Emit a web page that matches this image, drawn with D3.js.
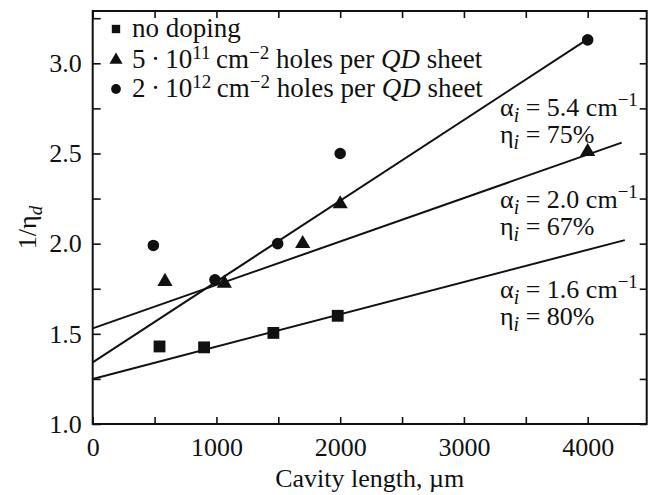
<!DOCTYPE html>
<html>
<head>
<meta charset="utf-8">
<script src="https://cdn.jsdelivr.net/npm/d3@7"></script>
<style>
  html, body { margin: 0; padding: 0; background: #fff; }
  svg { display: block; }
</style>
</head>
<body>
<svg id="chart" width="654" height="495"></svg>
<script>
// Cavity length (µm) and inverse differential efficiency for each doping level
const noDopingL   = [540, 900, 1460, 1980];
const noDopingY   = [1.43, 1.425, 1.505, 1.60];
const lowDopingL  = [584, 1064, 1697, 2000, 4000];
const lowDopingY  = [1.79, 1.78, 2.00, 2.22, 2.51];
const highDopingL = [490, 988, 1495, 2000, 4000];
const highDopingY = [1.99, 1.80, 2.00, 2.50, 3.13];

// Linear fits 1/eta_d = a + b*L  (no doping, 5e11, 2e12)
const fitIntercept = [1.25, 1.53, 1.342];
const fitSlope     = [1.79e-4, 2.41e-4, 4.48e-4];
const fitEndL      = [4300, 4275, 4000];

// Fit annotations
const alphaLabels = ["5.4", "2.0", "1.6"];
const etaLabels   = ["75%", "67%", "80%"];

// Axis ticks
const xMajorTicks = [0, 1000, 2000, 3000, 4000];
const xMinorTicks = [500, 1500, 2500, 3500];
const yMajorTicks = [1.0, 1.5, 2.0, 2.5, 3.0];
const yMinorTicks = [1.25, 1.75, 2.25, 2.75, 3.25];

const FONT = "'Liberation Serif', 'DejaVu Serif', serif";
const svg = d3.select("#chart");
const plotL = 92.7, plotR = 646.7, plotT = 11, plotB = 424;

const x = d3.scaleLinear().domain([0, 4477]).range([plotL, plotR]);
const y = d3.scaleLinear().domain([1.0, 3.29]).range([plotB, plotT]);

const tickFont = 26;
const textFont = 26;

// Axes with inward ticks on all four sides
function styleAxis(g) {
  g.select(".domain").remove();
  g.selectAll(".tick line").attr("stroke", "#111").attr("stroke-width", 1.6);
  g.selectAll(".tick text").style("font-size", tickFont + "px").attr("fill", "#111");
}

svg.append("g").attr("transform", `translate(0,${plotB})`)
  .call(d3.axisBottom(x).tickValues(xMajorTicks.concat(xMinorTicks)).tickSize(-7).tickPadding(14)
    .tickFormat(d => xMajorTicks.includes(d) ? d3.format("d")(d) : ""))
  .call(styleAxis);
svg.append("g").attr("transform", `translate(0,${plotT})`)
  .call(d3.axisTop(x).tickValues(xMajorTicks.concat(xMinorTicks)).tickSize(-7).tickFormat(""))
  .call(styleAxis);
svg.append("g").attr("transform", `translate(${plotL},0)`)
  .call(d3.axisLeft(y).tickValues(yMajorTicks.concat(yMinorTicks)).tickSize(-8).tickPadding(11)
    .tickFormat(d => yMajorTicks.includes(d) ? d3.format(".1f")(d) : ""))
  .call(styleAxis);
svg.append("g").attr("transform", `translate(${plotR},0)`)
  .call(d3.axisRight(y).tickValues(yMajorTicks.concat(yMinorTicks)).tickSize(-7).tickFormat(""))
  .call(styleAxis);

// Frame
svg.append("rect")
  .attr("x", plotL).attr("y", plotT)
  .attr("width", plotR - plotL).attr("height", plotB - plotT)
  .attr("fill", "none").attr("stroke", "#111").attr("stroke-width", 2);

// Fit lines
const line = d3.line().x(d => x(d[0])).y(d => y(d[1]));
fitIntercept.forEach((a, i) => {
  const b = fitSlope[i];
  svg.append("path")
    .datum([[0, a], [fitEndL[i], a + b * fitEndL[i]]])
    .attr("d", line)
    .attr("fill", "none").attr("stroke", "#111").attr("stroke-width", 2);
});

// Markers
const sq = d3.symbol().type(d3.symbolSquare).size(140);
const tri = d3.symbol().type(d3.symbolTriangle).size(100);
const circ = d3.symbol().type(d3.symbolCircle).size(105);

function drawSeries(Ls, Ys, sym) {
  svg.append("g").selectAll("path")
    .data(Ls.map((L, i) => [L, Ys[i]]))
    .join("path")
    .attr("d", sym)
    .attr("transform", d => `translate(${x(d[0])},${y(d[1])})`)
    .attr("fill", "#111");
}
drawSeries(noDopingL, noDopingY, sq);
drawSeries(lowDopingL, lowDopingY, tri);
drawSeries(highDopingL, highDopingY, circ);

// Axis titles
svg.append("text")
  .attr("x", (plotL + plotR) / 2).attr("y", 487)
  .attr("text-anchor", "middle").style("font-size", textFont + "px")
  .text("Cavity length, µm");

const yt = svg.append("text")
  .attr("transform", `translate(36,${(plotT + plotB) / 2 + 10}) rotate(-90)`)
  .attr("text-anchor", "middle").style("font-size", textFont + "px");
yt.append("tspan").text("1/η");
yt.append("tspan").attr("dy", 6).style("font-style", "italic").style("font-size", "19px").text("d");

// Legend
const legendFont = 27;
const legendItems = [
  { sym: d3.symbol().type(d3.symbolSquare).size(70), parts: [["no doping"]] },
  { sym: d3.symbol().type(d3.symbolTriangle).size(75),
    parts: [["5\u2009·\u200910"], ["11", "sup"], ["\u2009cm"], ["−2", "sup"], [" holes per "], ["QD", "it"], [" sheet"]] },
  { sym: d3.symbol().type(d3.symbolCircle).size(75),
    parts: [["2\u2009·\u200910"], ["12", "sup"], ["\u2009cm"], ["−2", "sup"], [" holes per "], ["QD", "it"], [" sheet"]] }
];
const legendY = [29, 60, 89];
legendItems.forEach((item, i) => {
  svg.append("path").attr("d", item.sym)
    .attr("transform", `translate(116,${legendY[i]})`).attr("fill", "#111");
  const t = svg.append("text").attr("x", 132).attr("y", legendY[i] + 8)
    .style("font-size", legendFont + "px");
  let raised = false;
  item.parts.forEach(([s, kind]) => {
    const ts = t.append("tspan").text(s);
    if (kind === "sup") {
      ts.attr("dy", raised ? 0 : -9).style("font-size", "19px");
      raised = true;
    } else {
      if (raised) ts.attr("dy", 9);
      raised = false;
      if (kind === "it") ts.style("font-style", "italic");
    }
  });
});

// Fit annotations
const annoY = [116, 208, 298];
alphaLabels.forEach((a, i) => {
  const t1 = svg.append("text").attr("x", 500).attr("y", annoY[i]).style("font-size", textFont + "px");
  t1.append("tspan").text("α");
  t1.append("tspan").attr("dy", 6).style("font-style", "italic").style("font-size", "20px").text("i");
  t1.append("tspan").attr("dy", -6).text(" = " + a + " cm");
  t1.append("tspan").attr("dy", -10).style("font-size", "19px").text("−1");

  const t2 = svg.append("text").attr("x", 500).attr("y", annoY[i] + 27).style("font-size", textFont + "px");
  t2.append("tspan").text("η");
  t2.append("tspan").attr("dy", 6).style("font-style", "italic").style("font-size", "20px").text("i");
  t2.append("tspan").attr("dy", -6).text(" = " + etaLabels[i]);
});

// Serif face and ink colour for every label
svg.selectAll("text").attr("font-family", FONT).style("font-family", FONT).attr("fill", "#111");
</script>
</body>
</html>
